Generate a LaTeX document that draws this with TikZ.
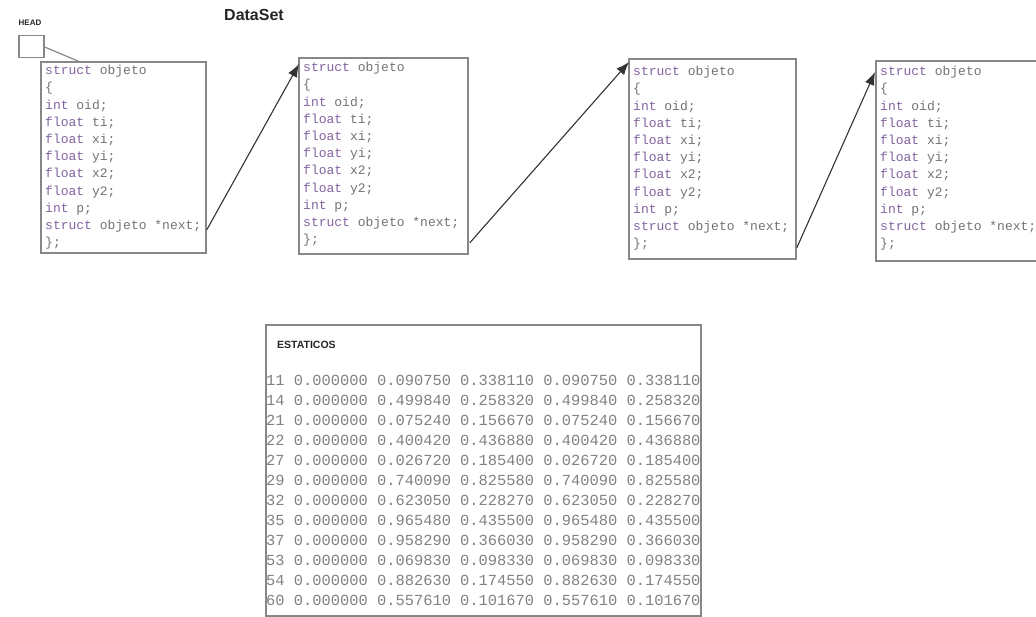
\documentclass[tikz,border=0pt]{standalone}
\usepackage{fontspec}
\setsansfont{Liberation Sans}
\newfontfamily\codefont{Liberation Mono}
\usetikzlibrary{arrows.meta,calc}

\definecolor{kw}{RGB}{130,100,160}
\definecolor{codetxt}{RGB}{115,115,115}
\definecolor{tabtxt}{RGB}{130,130,130}
\definecolor{frame}{RGB}{135,135,135}

% keyword highlighting inside the struct listing
\newcommand\kwd[1]{\textcolor{kw}{#1}}
\newcommand\structlisting{%
\kwd{struct} objeto\\
\{\\
\kwd{int} oid;\\
\kwd{float} ti;\\
\kwd{float} xi;\\
\kwd{float} yi;\\
\kwd{float} x2;\\
\kwd{float} y2;\\
\kwd{int} p;\\
\kwd{struct} objeto *next;\\
\};}

\tikzset{
  framebox/.style={draw=frame, line width=1.8pt, fill=white, inner sep=0pt, anchor=north west},
  codetext/.style={anchor=north west, inner sep=0pt, align=left, text=codetxt,
    font=\codefont\fontsize{13}{17.2}\selectfont},
  tabletext/.style={anchor=north west, inner sep=0pt, align=left, text=tabtxt,
    font=\codefont\fontsize{15.4}{20}\selectfont},
  label/.style={inner sep=0pt, font=\sffamily\bfseries, text=black!85},
  link/.style={draw=black!80, line width=1.1pt, -{Latex[length=13pt,width=10pt]}},
}

\begin{document}
\begin{tikzpicture}[x=1pt,y=-1pt]
\useasboundingbox (0,0) rectangle (1036,617);
\fill[white] (0,0) rectangle (1036,617);

% list head
\node[label, font=\sffamily\bfseries\fontsize{8}{9}\selectfont] (headlbl) at (30,23) {HEAD};
\node[framebox, line width=1.5pt, minimum width=25pt, minimum height=22pt] (head) at (18,35) {};

\node[label, font=\sffamily\bfseries\fontsize{16}{18}\selectfont] (title) at (254,15) {DataSet};

% the four list elements
\node[framebox, minimum width=165pt, minimum height=191pt] (b1) at (40,61) {};
\node[codetext] (t1) at (45,65) {\structlisting};

\node[framebox, minimum width=169pt, minimum height=196pt] (b2) at (298,57) {};
\node[codetext] (t2) at (303,62) {\structlisting};

\node[framebox, minimum width=167pt, minimum height=200pt] (b3) at (628,58) {};
\node[codetext] (t3) at (633,66) {\structlisting};

\node[framebox, minimum width=175pt, minimum height=200pt] (b4) at (875,60) {};
\node[codetext] (t4) at (880,66) {\structlisting};

% pointers
\draw[draw=frame, line width=1.2pt] ($(head.north east)+(0,12)$) -- ($(b1.north west)+(38,0)$);
\draw[link] ($(b1.south east)+(0,-24)$) -- ($(b2.north west)+(1,7)$);
\draw[link] ($(b2.south east)+(1,-12)$) -- ($(b3.north west)+(1,4)$);
\draw[link] ($(b3.south east)+(0,-12)$) -- ($(b4.north west)+(0,12)$);

% static objects table
\node[framebox, minimum width=435pt, minimum height=291pt] (tbl) at (265,324) {};
\node[label, anchor=west, font=\sffamily\bfseries\fontsize{10.5}{12}\selectfont] (tblhead) at (277,345) {ESTATICOS};
\node[tabletext] (rows) at (266,375) {%
11 0.000000 0.090750 0.338110 0.090750 0.338110\\
14 0.000000 0.499840 0.258320 0.499840 0.258320\\
21 0.000000 0.075240 0.156670 0.075240 0.156670\\
22 0.000000 0.400420 0.436880 0.400420 0.436880\\
27 0.000000 0.026720 0.185400 0.026720 0.185400\\
29 0.000000 0.740090 0.825580 0.740090 0.825580\\
32 0.000000 0.623050 0.228270 0.623050 0.228270\\
35 0.000000 0.965480 0.435500 0.965480 0.435500\\
37 0.000000 0.958290 0.366030 0.958290 0.366030\\
53 0.000000 0.069830 0.098330 0.069830 0.098330\\
54 0.000000 0.882630 0.174550 0.882630 0.174550\\
60 0.000000 0.557610 0.101670 0.557610 0.101670};
\end{tikzpicture}
\end{document}
